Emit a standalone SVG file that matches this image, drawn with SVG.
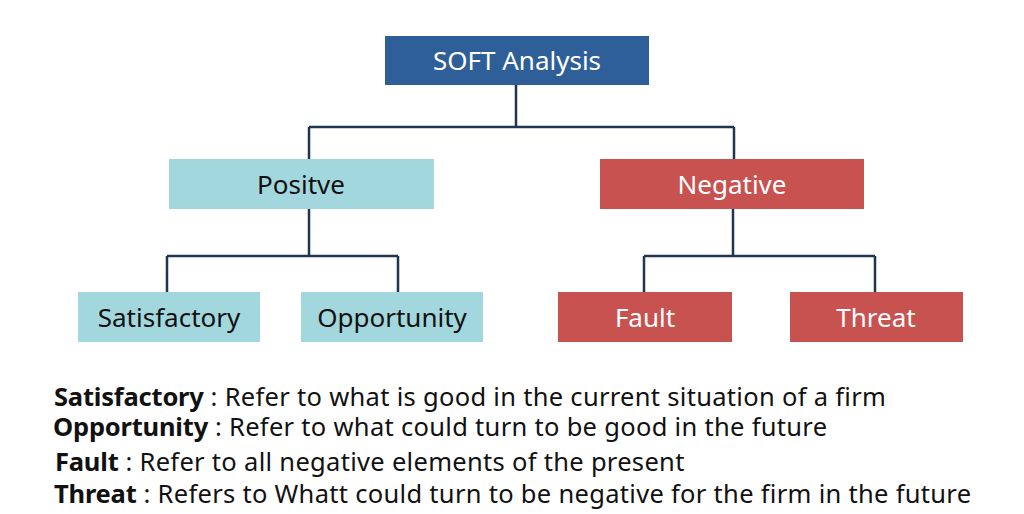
<svg xmlns="http://www.w3.org/2000/svg" width="1024" height="514" viewBox="0 0 1024 514">
<style>
.lbl{font-family:"Noto Sans","DejaVu Sans",sans-serif;font-size:26px;text-anchor:middle}
.pos{fill:#A3D7DE}
.neg{fill:#C85250}
.dk{fill:#111111}
.wt{fill:#FFFFFF}
.conn{stroke:#1F3550;stroke-width:2.5;fill:none}
.desc{font-family:"Noto Sans","DejaVu Sans",sans-serif;font-size:25.5px;letter-spacing:0.3px;fill:#111111}
.b{font-weight:bold;letter-spacing:-0.2px}
</style>
<rect width="1024" height="514" fill="#FFFFFF"/>
<g id="connectors">
<path class="conn" d="M516,85 V127 M309,127 H734 M309,127 V159 M734,127 V159"/>
<path class="conn" d="M309,209 V256 M167,256 H398 M167,256 V292 M398,256 V292"/>
<path class="conn" d="M733,209 V256 M644,256 H875 M644,256 V292 M875,256 V292"/>
</g>
<g id="soft">
<rect x="385" y="36" width="264" height="49" fill="#2F5F98"/>
<text class="lbl wt" x="517" y="70">SOFT Analysis</text>
</g>
<g id="positive">
<rect class="pos" x="169" y="159" width="265" height="50"/>
<text class="lbl dk" x="301" y="194">Positve</text>
</g>
<g id="negative">
<rect class="neg" x="600" y="159" width="264" height="50"/>
<text class="lbl wt" x="732" y="194">Negative</text>
</g>
<g id="satisfactory">
<rect class="pos" x="78" y="292" width="182" height="50"/>
<text class="lbl dk" x="169" y="327">Satisfactory</text>
</g>
<g id="opportunity">
<rect class="pos" x="301" y="292" width="182" height="50"/>
<text class="lbl dk" x="392" y="327">Opportunity</text>
</g>
<g id="fault">
<rect class="neg" x="558" y="292" width="174" height="50"/>
<text class="lbl wt" x="645" y="327">Fault</text>
</g>
<g id="threat">
<rect class="neg" x="790" y="292" width="173" height="50"/>
<text class="lbl wt" x="876" y="327">Threat</text>
</g>
<g id="descriptions">
<text class="desc" x="54" y="406"><tspan class="b">Satisfactory</tspan> : Refer to what is good in the current situation of a firm</text>
<text class="desc" x="53" y="436"><tspan class="b">Opportunity</tspan> : Refer to what could turn to be good in the future</text>
<text class="desc" x="55" y="471"><tspan class="b">Fault</tspan> : Refer to all negative elements of the present</text>
<text class="desc" x="54" y="503"><tspan class="b">Threat</tspan> : Refers to Whatt could turn to be negative for the firm in the future</text>
</g>
</svg>
